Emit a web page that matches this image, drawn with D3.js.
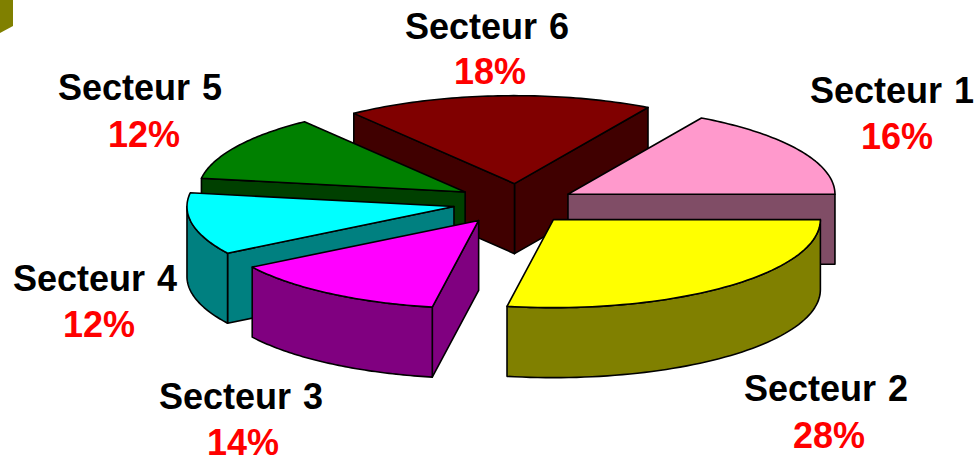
<!DOCTYPE html>
<html><head><meta charset="utf-8">
<script src="https://cdn.jsdelivr.net/npm/d3@7"></script>
<style>html,body{margin:0;padding:0;background:#fff;overflow:hidden}svg{display:block}
text{font-family:"Liberation Sans",Arial,sans-serif;font-weight:bold;text-anchor:middle;word-spacing:2px}</style>
</head><body><svg id="c" width="975" height="458"></svg>
<script>
const categories = ["Secteur 1","Secteur 2","Secteur 3","Secteur 4","Secteur 5","Secteur 6"];
const values = [16,28,14,12,12,18];
const topColors = ["#FF99CC","#FFFF00","#FF00FF","#00FFFF","#008000","#800000"];
const sideColors = ["#804D66","#808000","#800080","#008080","#004000","#400000"];
const percentLabels = values.map(v => v + "%");

// layout
const cx = 514.5, cy = 204, rx = 267, ry = 88, depth = 70, explode = 61;
const labelPos = [[892,103,897,149],[826,401,829,448],[241,409,243,455],[95,291,99,337],[140,100,144,147],[487,39,490,84]];
const paintOrder = [5,4,0,3,2,1];
const deg = Math.PI/180;
// the 3D view foreshortens the far side of the pie a little
const warpScale = d3.scaleLinear()
  .domain([0,100.8,151.2,194.4,237.6,302.4,360])
  .range([0,100,148,189,233,300,360]);
const warp = t => { const d=t/deg; return (d<0 ? warpScale(d+360)-360 : warpScale(d))*deg; };

const svg = d3.select("#c");
const pieGen = d3.pie().sort(null).value(d => d)
  .startAngle(32.4*deg).endAngle(32.4*deg+2*Math.PI);
const arcs = pieGen(values);
const line = d3.line();

arcs.forEach((a,i)=>{
  const s=a.startAngle-Math.PI/2, e=a.endAngle-Math.PI/2, m=(s+e)/2;
  a.a0=warp(s); a.a1=warp(e);
  a.ox=cx+explode*Math.cos(m); a.oy=cy+explode*Math.sin(m)/3;
});
const P=(a,t,dz=0)=>[a.ox+rx*Math.cos(t),a.oy+ry*Math.sin(t)+dz];
const sample=(t0,t1)=>d3.range(0,61).map(k=>t0+(t1-t0)*k/60);

const g=svg.append("g").attr("stroke","#000").attr("stroke-width",1.6).attr("stroke-linejoin","round");
paintOrder.forEach(idx=>{
  const a=arcs[idx];
  const apex=[a.ox,a.oy], apexD=[a.ox,a.oy+depth];
  const face=t=>line([apex,P(a,t),P(a,t,depth),apexD])+"Z";
  if(Math.cos(a.a1)>0) g.append("path").attr("d",face(a.a1)).attr("fill",sideColors[idx]);
  if(Math.cos(a.a0)<0) g.append("path").attr("d",face(a.a0)).attr("fill",sideColors[idx]);
  const w0=Math.max(a.a0,0), w1=Math.min(a.a1,Math.PI);
  if(w1>w0){
    const ts=sample(w0,w1);
    const pts=ts.map(t=>P(a,t)).concat(ts.slice().reverse().map(t=>P(a,t,depth)));
    g.append("path").attr("d",line(pts)+"Z").attr("fill",sideColors[idx]);
  }
  const topPts=[apex].concat(sample(a.a0,a.a1).map(t=>P(a,t)));
  g.append("path").attr("d",line(topPts)+"Z").attr("fill",topColors[idx]);
});

svg.append("path").attr("d",line([[0,0],[13,0],[13,26],[0,33]])+"Z").attr("fill","#808000");

const lab=svg.append("g").attr("font-size",36);
categories.forEach((c,i)=>{
  const p=labelPos[i];
  lab.append("text").attr("x",p[0]).attr("y",p[1]).attr("fill","#000").text(c);
  lab.append("text").attr("x",p[2]).attr("y",p[3]).attr("fill","#FF0000").text(percentLabels[i]);
});
</script></body></html>
